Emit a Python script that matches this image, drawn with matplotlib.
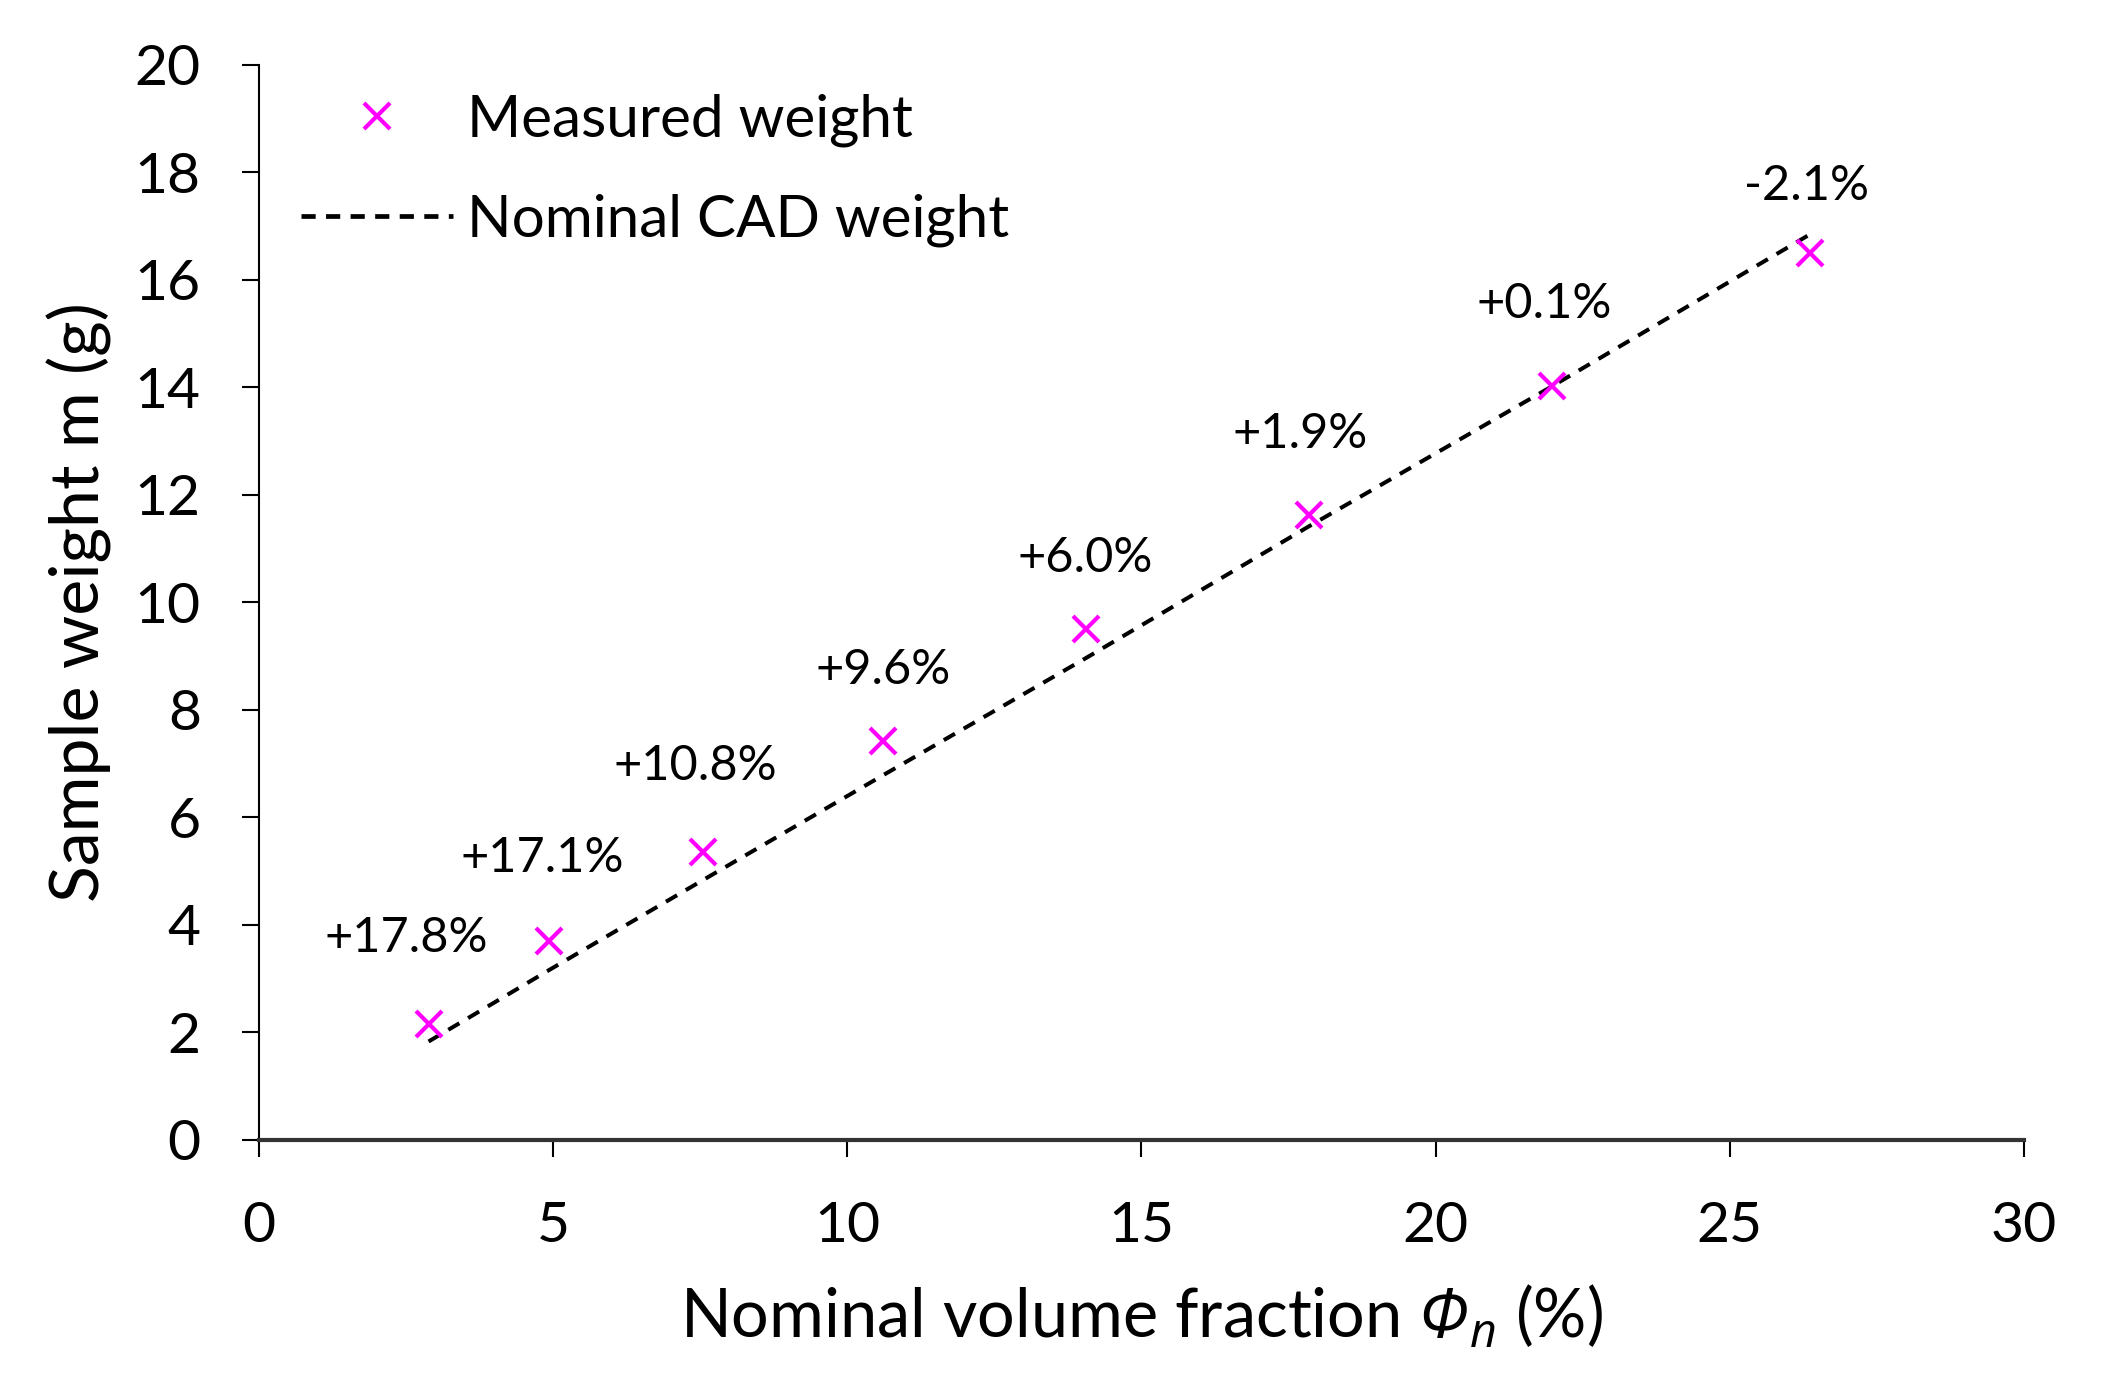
import matplotlib
matplotlib.use("Agg")
import matplotlib.pyplot as plt
from matplotlib.lines import Line2D

# Datos
fraccion = [2.88, 4.93, 7.54, 10.6, 14.05, 17.84, 21.98, 26.37]
peso_medido = [2.15, 3.7, 5.35, 7.43, 9.5, 11.63, 14.03, 16.5]
peso_cad = [1.83, 3.16, 4.83, 6.78, 8.96, 11.41, 14.02, 16.85]
etiquetas = ["+17.8%", "+17.1%", "+10.8%", "+9.6%", "+6.0%", "+1.9%", "+0.1%", "-2.1%"]

# desplazamiento de cada etiqueta respecto a su punto (en puntos)
desplaz = [(-16, 62), (-5, 60), (-5, 62), (0, 51), (0, 51), (-6, 58), (-6, 59), (-3, 48)]

plt.rcParams['font.family'] = ['Lato', 'DejaVu Sans']
plt.rcParams['mathtext.fontset'] = 'custom'
# el Φ se escribe con \mathrm, que aquí apunta a una cursiva
plt.rcParams['mathtext.rm'] = 'Open Sans:italic'
plt.rcParams['mathtext.it'] = 'Open Sans:italic'

fig = plt.figure(figsize=(21.07, 13.8), dpi=100)
ax = fig.add_axes([0.123, 0.174, 0.8375, 0.779])

ax.plot(fraccion, peso_cad, linestyle=(0, (3.2, 2.5)), color="black", linewidth=2.9)
ax.plot(fraccion, peso_medido, linestyle="none", marker="x", color="#ff00ff",
        markersize=19, markeredgewidth=3)

for x, y, txt, d in zip(fraccion, peso_medido, etiquetas, desplaz):
    ax.annotate(txt, (x, y), xytext=d, textcoords="offset points",
                ha="center", va="center", fontsize=35)

ax.set_xlim(0, 30)
ax.set_ylim(0, 20)
ax.set_xticks(range(0, 31, 5))
ax.set_yticks(range(0, 21, 2))

for lado in ["top", "right"]:
    ax.spines[lado].set_visible(False)
ax.spines["left"].set_linewidth(1.5)
ax.spines["bottom"].set_linewidth(3)
ax.spines["bottom"].set_color("#333333")

ax.tick_params(axis="both", direction="out", length=12, width=1.5, labelsize=41)
ax.tick_params(axis="x", pad=32)
ax.tick_params(axis="y", pad=30)

ax.set_xlabel(r"Nominal volume fraction $\mathrm{Φ}_n$ (%)", fontsize=48, labelpad=22)
ax.set_ylabel("Sample weight m (g)", fontsize=49, labelpad=16)

manejadores = [
    Line2D([], [], linestyle="none", marker="x", color="#ff00ff", markersize=19, markeredgewidth=3),
    Line2D([], [], linestyle=(0, (3, 2.2)), color="black", linewidth=3.4),
]
ax.legend(manejadores, ["Measured weight", "Nominal CAD weight"], loc="upper left",
          bbox_to_anchor=(-0.006, 1.022), frameon=False, fontsize=42, handlelength=2.6,
          handletextpad=0.25, labelspacing=0.8)

fig.savefig("out.png", dpi=100)
